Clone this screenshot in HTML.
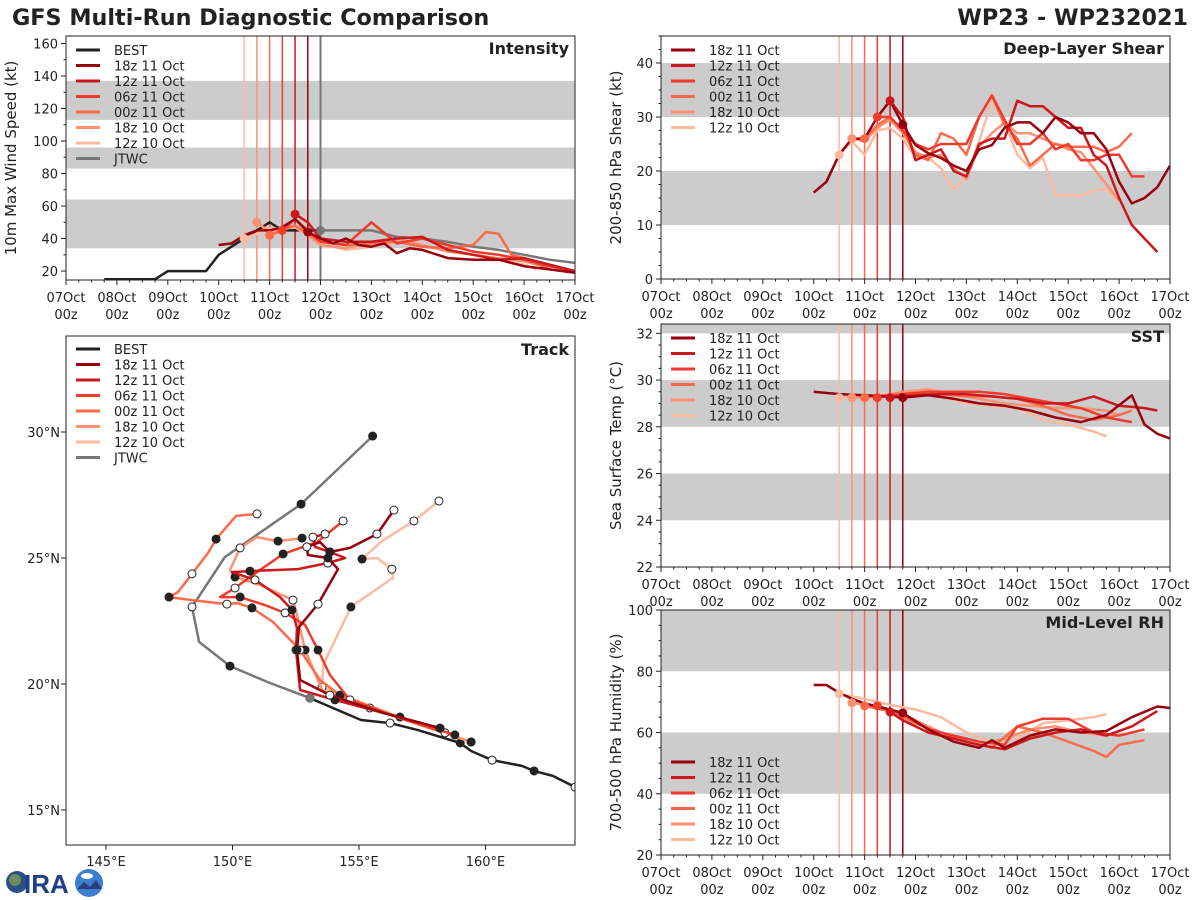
<!DOCTYPE html>
<html><head><meta charset="utf-8"><title>GFS Multi-Run Diagnostic Comparison</title>
<style>
html,body{margin:0;padding:0;background:#fff;}
svg{display:block;font-family:"DejaVu Sans","Liberation Sans",sans-serif;}
</style></head>
<body>
<svg id="fig" width="1200" height="900" viewBox="0 0 1200 900" xmlns="http://www.w3.org/2000/svg">
<rect width="1200" height="900" fill="#fff"/>
<text x="12" y="25" font-size="22.3" font-weight="bold" fill="#222">GFS Multi-Run Diagnostic Comparison</text>
<text x="1188" y="25" font-size="22.3" font-weight="bold" fill="#222" text-anchor="end">WP23 - WP232021</text>
<g>
<circle cx="17" cy="882" r="11" fill="#2a4f8a"/><circle cx="15" cy="880" r="6" fill="#6b8f5a"/>
<text x="24" y="893" font-size="26" font-weight="bold" fill="#1f3f86" font-family="Liberation Sans, sans-serif">IRA</text>
<circle cx="89" cy="883" r="14" fill="#3b7fd0"/><path d="M77 889 L84 882 L90 887 L96 880 L102 889 Z" fill="#2a3f7a"/><ellipse cx="87" cy="876" rx="6" ry="3" fill="#fff"/>
</g>
<g id="plots"></g>
</svg>
<script>
// ---- shared data ----
const runNames = ["18z 11 Oct","12z 11 Oct","06z 11 Oct","00z 11 Oct","18z 10 Oct","12z 10 Oct"];
const runColors = ["#99000d","#cb181d","#ef3b2c","#fb6a4a","#fc9272","#fcbba1"];
const runInitHours = [114,108,102,96,90,84];
const jtwcInitHour = 120;
const dayLabels = ["07Oct","08Oct","09Oct","10Oct","11Oct","12Oct","13Oct","14Oct","15Oct","16Oct","17Oct"];

// ---- intensity (kt) ----
const bestHours = [18,24,30,36,42,48,54,60,66,72,78,84,90,96,102,108,114,120];
const bestKt = [15,15,15,15,15,20,20,20,20,30,35,40,45,50,45,45,45,45];
const jtwcHours = [120,132,144,156,168,180,192,204,216,228,240];
const jtwcKt = [45,45,45,41,40,38,35,33,30,27,25];
const intHours = [
 [72,78,84,90,96,102,108,114,120,126,132,138,144,150,156,162,168,180,192,204,216,228,240],
 [108,114,120,132,144,156,168,180,192,204,216,228,240],
 [102,108,114,120,132,144,156,168,180,192,204,216,228,240],
 [96,108,120,132,144,156,168,180,192,198,204,210,216,228],
 [90,96,108,120,132,144,156,168,180,192,204,216,228],
 [84,96,108,120,132,144,156,168,180,192,204,216,222]];
const intKt = [
 [36,37,42,45,45,47,52,44,40,37,40,36,35,37,31,34,33,28,27,27,23,21,19],
 [55,50,40,38,38,40,41,33,30,27,28,24,20],
 [45,52,45,38,36,50,37,40,36,32,30,27,23,20],
 [42,48,38,36,37,38,35,34,36,44,43,30,28,21],
 [50,44,48,36,34,38,40,36,32,30,28,26,22],
 [40,46,47,37,33,35,38,35,33,30,27,24,21]];
const intInitKt = [44,55,45,42,50,40];

// ---- shear (kt) ----
const shrHours = [
 [72,78,84,90,96,102,108,114,120,126,132,138,144,150,156,162,168,174,180,186,192,198,204,210,216,222,228,234,240],
 [108,114,120,132,138,144,150,156,162,168,174,180,186,192,198,204,210,216,222,228,234],
 [102,108,114,120,126,132,138,144,150,156,162,168,174,180,186,192,198,204,210,216,222,228],
 [96,102,108,114,120,126,132,138,144,150,156,162,168,174,180,186,192,198,204,210,216,222],
 [90,96,102,108,114,120,126,132,138,144,150,156,162,168,174,180,186,192,198,204,210,216],
 [84,90,96,102,108,114,120,126,132,138,144,150,156,162,168,174,180,186,192,198,204,210,216]];
const shrKt = [
 [16,18,23,26,26,30,33,28.6,24.8,23.3,22.4,21,20,24,24.8,28,29,29,27,30,29,27,27,24,18,14,15,17,21],
 [33,30,22,24,20,19,25,26,26,33,32,32,30,28,28,23,21,15,10,7.5,5],
 [30,30,27.5,25,24,25,25,25,30,34,29.5,25,25,27,24,25,22,22,23,23,19,19],
 [26,28.5,30,27.5,23,22,27,26,23,30,34,28.5,26,21,23,25,24.5,24.5,24.5,23.5,24.5,27],
 [26,25.5,28,29.5,27,23.5,22.5,23,20.5,18.5,24.5,27,29,27,27,26,25,24,23.5,20.5,17.5,14.5],
 [23,25.5,23,27.5,28,26,22.5,22.5,20.5,16.5,19,25.5,33,29,23,20.5,22.5,15.5,15.5,15.5,16.5,16.5,14.5]];

// ---- SST (C) ----
const sstHours = [
 [72,84,96,108,114,126,138,150,162,174,186,198,210,222,228,234,240],
 [108,120,132,144,156,168,180,192,204,216,228,234],
 [102,114,126,138,150,162,174,186,198,210,216,222],
 [96,108,120,132,144,156,168,180,192,204,216,222],
 [90,102,114,126,138,150,162,174,186,198,210,216],
 [84,96,108,120,132,144,156,168,180,192,204,210]];
const sstC = [
 [29.5,29.4,29.35,29.3,29.25,29.35,29.2,29.0,28.9,28.7,28.4,28.2,28.5,29.35,28.1,27.7,27.5],
 [29.25,29.35,29.4,29.4,29.3,29.2,29.0,29.0,29.3,28.9,28.8,28.7],
 [29.25,29.4,29.5,29.5,29.5,29.4,29.2,29.0,28.8,28.4,28.3,28.2],
 [29.25,29.35,29.45,29.4,29.3,29.3,29.2,28.9,28.5,28.3,28.5,28.7],
 [29.25,29.3,29.5,29.6,29.4,29.2,29.0,28.9,28.8,28.8,28.7,28.5],
 [29.25,29.3,29.4,29.5,29.3,29.0,28.9,28.8,28.3,28.1,27.8,27.6]];
const sstInit = [29.25,29.25,29.25,29.25,29.25,29.25];

// ---- RH (%) ----
const rhHours = [
 [72,78,84,90,96,102,108,114,126,138,150,156,162,174,186,198,210,222,234,240],
 [108,114,126,138,150,162,174,186,198,210,222,234],
 [102,114,126,138,150,162,168,180,192,204,216,228],
 [96,108,120,132,144,156,168,180,192,204,210,216,228],
 [90,102,114,126,138,150,162,174,186,198,210,216],
 [84,96,108,120,132,144,156,168,180,192,204,210]];
const rhPct = [
 [75.5,75.5,73,71,69.5,68.5,67.5,66.4,61,57,55,57.5,55,59,61,60,60.5,65,68.5,68],
 [66.7,64,60,58,56,54.5,58,60,61,59,62,67],
 [68.7,66,61,59,57,56,62,64.5,64.5,60,59,61],
 [68.7,67,63,60,57,55,62,60,57,54,52,56,57.5],
 [69.7,68.5,66,62,58,56,58,61,62,60,59,60.5],
 [72.6,71,69,67.5,65,60,57,58,63,64,65,66]];
const rhInit = [66.4,66.7,68.7,68.7,69.7,72.6];

// ---- track (deg) ----
const bestLon = [153.06,155.08,156.23,157.33,159.0,159.43,160.26,161.44,161.92,162.67,163.54];
const bestLat = [19.44,18.57,18.45,18.17,17.66,17.34,16.98,16.75,16.55,16.35,15.91];
const jtwcLon = [153.06,151.48,149.90,148.68,148.40,149.70,152.71,155.54];
const jtwcLat = [19.44,20.04,20.71,21.67,23.06,25.04,27.14,29.84];
const trkLon = [
 [158.20,155.83,153.85,152.67,152.55,152.63,153.38,154.17,153.77,152.98,152.94,153.46,153.85,154.64,155.71,156.38],
 [158.20,155.83,154.05,152.67,152.51,152.55,152.35,151.88,150.89,149.98,150.69,152.59,153.77,154.45,153.85,153.26,153.18,153.66],
 [158.79,156.62,154.64,153.85,153.38,152.87,152.08,151.28,150.30,149.51,150.10,150.81,152.0,153.34,154.37],
 [158.40,156.62,154.25,153.46,152.67,151.60,150.77,150.18,149.78,148.40,147.49,147.85,148.40,149.03,149.35,150.14,150.97],
 [159.43,157.41,155.43,153.54,152.87,152.55,152.39,151.09,150.10,149.90,150.30,150.97,151.80,152.75],
 [159.43,158.20,156.62,154.84,153.54,153.58,154.68,156.34,156.30,155.71,155.12,155.91,157.17,158.16]];
const trkLat = [
 [18.25,18.89,19.56,20.16,21.35,22.26,23.17,24.56,25.0,25.12,25.44,25.63,25.24,25.40,25.95,26.90],
 [18.25,18.89,19.37,19.76,21.35,22.22,22.94,23.45,24.13,24.44,24.48,24.56,24.80,25.0,25.24,25.44,25.83,25.95],
 [17.98,18.65,19.37,20.36,21.35,22.34,22.82,23.13,23.45,23.45,23.81,24.33,25.16,25.63,26.47],
 [18.06,18.65,19.56,20.16,21.35,22.46,23.02,23.21,23.17,23.33,23.45,23.65,24.37,25.20,25.75,26.67,26.75],
 [17.70,18.37,19.05,19.76,21.35,22.74,23.33,23.93,24.25,24.52,25.40,25.83,25.67,25.79],
 [17.70,18.17,18.69,19.37,19.88,20.75,23.06,24.21,24.56,25.0,24.96,25.67,26.47,27.26]];
const lonTicks = [145,150,155,160];
const latTicks = [15,20,25,30];

// ---- drawing ----
const NS = "http://www.w3.org/2000/svg";
const root = document.getElementById("plots");
function mk(tag, attrs, parent){
  const e = document.createElementNS(NS, tag);
  for (const k in attrs) e.setAttribute(k, attrs[k]);
  (parent||root).appendChild(e);
  return e;
}
function txt(s, attrs, parent){ const t = mk("text", attrs, parent); t.textContent = s; return t; }
function linePath(xs, ys){ return xs.map((x,i)=>(i?"L":"M")+x.toFixed(1)+" "+ys[i].toFixed(1)).join(""); }
let clipId = 0;

function timePanel(cfg){
  const g = mk("g", {});
  
  
  const L=cfg.x0, R=cfg.x1, T=cfg.top, B=cfg.bottom;
  const sx = h => L + h*(R-L)/240;
  const sy = v => B - (v-cfg.ymin)*(B-T)/(cfg.ymax-cfg.ymin);
  const cid = "clip"+(clipId++);
  const cp = mk("clipPath", {id:cid}, g); mk("rect",{x:L,y:T,width:R-L,height:B-T},cp);
  const inner = mk("g", {"clip-path":"url(#"+cid+")"}, g);
  cfg.bands.forEach(b=>{
    const r = mk("rect",{x:L,y:sy(b[1]),width:R-L,height:sy(b[0])-sy(b[1]),fill:"#cccccc"},inner);
    
    
  });
  runInitHours.forEach((h,i)=>{
    const l = mk("line",{x1:sx(h),x2:sx(h),y1:T,y2:B,stroke:runColors[i],"stroke-width":1.5},inner);
    
    
  });
  if (cfg.jtwcLine){
    const l = mk("line",{x1:sx(jtwcInitHour),x2:sx(jtwcInitHour),y1:T,y2:B,stroke:"#777","stroke-width":2},inner);
    
    
  }
  if (cfg.best){
    const p = mk("path",{d:linePath(bestHours.map(sx),bestKt.map(sy)),fill:"none",stroke:"#222","stroke-width":2.5},inner);
    
    
  }
  if (cfg.jtwc){
    const p = mk("path",{d:linePath(jtwcHours.map(sx),jtwcKt.map(sy)),fill:"none",stroke:"#777","stroke-width":2.5},inner);
    
    
  }
  for (let i=cfg.hours.length-1;i>=0;i--){
    const p = mk("path",{d:linePath(cfg.hours[i].map(sx),cfg.vals[i].map(sy)),fill:"none",stroke:runColors[i],"stroke-width":2.5,"stroke-linejoin":"round"},inner);
    
    
  }
  for (let i=runInitHours.length-1;i>=0;i--){
    const v = cfg.init ? cfg.init[i] : cfg.vals[i][cfg.hours[i].indexOf(runInitHours[i])];
    const c = mk("circle",{cx:sx(runInitHours[i]),cy:sy(v),r:4.5,fill:runColors[i]},inner);
    
    
  }
  if (cfg.jtwc){
    const c = mk("circle",{cx:sx(jtwcInitHour),cy:sy(jtwcKt[0]),r:4.5,fill:"#777"},inner);
    
    
  }
  mk("rect",{x:L,y:T,width:R-L,height:B-T,fill:"none",stroke:"#222","stroke-width":1},g);
  for (let h=0; h<=240; h+=6){
    const major = h%24===0;
    mk("line",{x1:sx(h),x2:sx(h),y1:B,y2:B+(major?5:2.5),stroke:"#222","stroke-width":1},g);
    if (major){
      const d = h/24;
      const t1 = txt(dayLabels[d],{x:sx(h),y:B+22,"font-size":13,"text-anchor":"middle",fill:"#222"},g);
      
      
      txt("00z",{x:sx(h),y:B+39,"font-size":13,"text-anchor":"middle",fill:"#222"},g);
    }
  }
  for (let v=cfg.ymin0; v<=cfg.ymax+1e-6; v+=cfg.minor){
    const major = Math.abs(((v-cfg.ymin0)/cfg.major)-Math.round((v-cfg.ymin0)/cfg.major))<1e-6;
    if (v<cfg.ymin-1e-6) continue;
    mk("line",{x1:L,x2:L-(major?5:2.5),y1:sy(v),y2:sy(v),stroke:"#222","stroke-width":1},g);
    if (major){
      const t = txt(String(Math.round(v)),{x:L-8,y:sy(v)+5,"font-size":13,"text-anchor":"end",fill:"#222"},g);
      
      
    }
  }
  const yt = txt(cfg.ylabel,{transform:`translate(${cfg.ylabelX},${(T+B)/2}) rotate(-90)`,"font-size":15,"text-anchor":"middle",fill:"#222"},g);
  
  
  const tt = txt(cfg.title,{x:R-6,y:T+18,"font-size":16,"font-weight":"bold","text-anchor":"end",fill:"#222"},g);
  
  
  legend(g, L+10, cfg.legendY, cfg.legendItems);
}

function legend(g, x, y, items){
  const lg = mk("g",{},g);
  
  
  items.forEach((it,k)=>{
    const yy = y + k*15.5;
    const e = mk("g",{},lg);
    
    
    mk("line",{x1:x,x2:x+24,y1:yy,y2:yy,stroke:it[1],"stroke-width":3},e);
    txt(it[0],{x:x+38,y:yy+5,"font-size":13,fill:"#222"},e);
  });
}

const runLegend = runNames.map((n,i)=>[n,runColors[i]]);

timePanel({name:"intensity-panel",x0:66,x1:575,top:36,bottom:280,ymin:14.5,ymax:164.6,ymin0:20,major:20,minor:10,
  bands:[[34,64],[83,96],[113,137]],hours:intHours,vals:intKt,init:intInitKt,best:true,jtwc:true,jtwcLine:true,
  ylabel:"10m Max Wind Speed (kt)",ylabelX:16,title:"Intensity",legendY:50,
  legendItems:[["BEST","#222"]].concat(runLegend,[["JTWC","#777"]])});
timePanel({name:"shear-panel",x0:661,x1:1170,top:36,bottom:279,ymin:0,ymax:45,ymin0:0,major:10,minor:2.5,
  bands:[[10,20],[30,40]],hours:shrHours,vals:shrKt,
  ylabel:"200-850 hPa Shear (kt)",ylabelX:621,title:"Deep-Layer Shear",legendY:50,legendItems:runLegend});
timePanel({name:"sst-panel",x0:661,x1:1170,top:324,bottom:567,ymin:22,ymax:32.4,ymin0:22,major:2,minor:0.5,
  bands:[[24,26],[28,30],[32,34]],hours:sstHours,vals:sstC,init:sstInit,
  ylabel:"Sea Surface Temp (°C)",ylabelX:621,title:"SST",legendY:338,legendItems:runLegend});
timePanel({name:"rh-panel",x0:661,x1:1170,top:610,bottom:855,ymin:20,ymax:100,ymin0:20,major:20,minor:5,
  bands:[[40,60],[80,100]],hours:rhHours,vals:rhPct,init:rhInit,
  ylabel:"700-500 hPa Humidity (%)",ylabelX:621,title:"Mid-Level RH",legendY:762,legendItems:runLegend});

(function(){
  const g = mk("g",{});
  
  
  const L=66,R=575,T=336,B=845;
  const sx = lon => 106 + (lon-145)*25.3;
  const sy = lat => 558 - (lat-25)*25.2;
  const cp = mk("clipPath",{id:"trkclip"},g); mk("rect",{x:L,y:T,width:R-L,height:B-T},cp);
  const inner = mk("g",{"clip-path":"url(#trkclip)"},g);
  function track(lons, lats, color, name, firstFilled){
    const p = mk("path",{d:linePath(lons.map(sx),lats.map(sy)),fill:"none",stroke:color,"stroke-width":2.5,"stroke-linejoin":"round"},inner);
    
    
    lons.forEach((lo,i)=>{
      if (i%2!==0 && i!==lons.length-1) return;
      const filled = ((i/2)|0)%2===(firstFilled?0:1);
      const c = mk("circle",{cx:sx(lo),cy:sy(lats[i]),r:4,fill:filled?"#222":"#fff",stroke:"#222","stroke-width":1},inner);
      
      
    });
  }
  track(jtwcLon, jtwcLat, "#777", "jtwc-track", false);
  track(bestLon, bestLat, "#222", "best-track", true);
  for (let i=trkLon.length-1;i>=0;i--) track(trkLon[i], trkLat[i], runColors[i], "track-"+runNames[i].replace(/ /g,'-').toLowerCase(), i%2===0);
  const c0 = mk("circle",{cx:sx(jtwcLon[0]),cy:sy(jtwcLat[0]),r:4.5,fill:"#777"},inner);
  
  
  mk("rect",{x:L,y:T,width:R-L,height:B-T,fill:"none",stroke:"#222","stroke-width":1},g);
  lonTicks.forEach(lo=>{
    mk("line",{x1:sx(lo),x2:sx(lo),y1:B,y2:B+5,stroke:"#222"},g);
    const t = txt(lo+"°E",{x:sx(lo),y:B+21,"font-size":13,"text-anchor":"middle",fill:"#222"},g);
    
    
  });
  latTicks.forEach(la=>{
    mk("line",{x1:L,x2:L-5,y1:sy(la),y2:sy(la),stroke:"#222"},g);
    const t = txt(la+"°N",{x:L-6,y:sy(la)+5,"font-size":13,"text-anchor":"end",fill:"#222"},g);
    
    
  });
  const tt = txt("Track",{x:R-6,y:T+19,"font-size":16,"font-weight":"bold","text-anchor":"end",fill:"#222"},g);
  
  
  legend(g, L+10, 349, [["BEST","#222"]].concat(runLegend,[["JTWC","#777"]]));
})();
</script>
</body></html>
